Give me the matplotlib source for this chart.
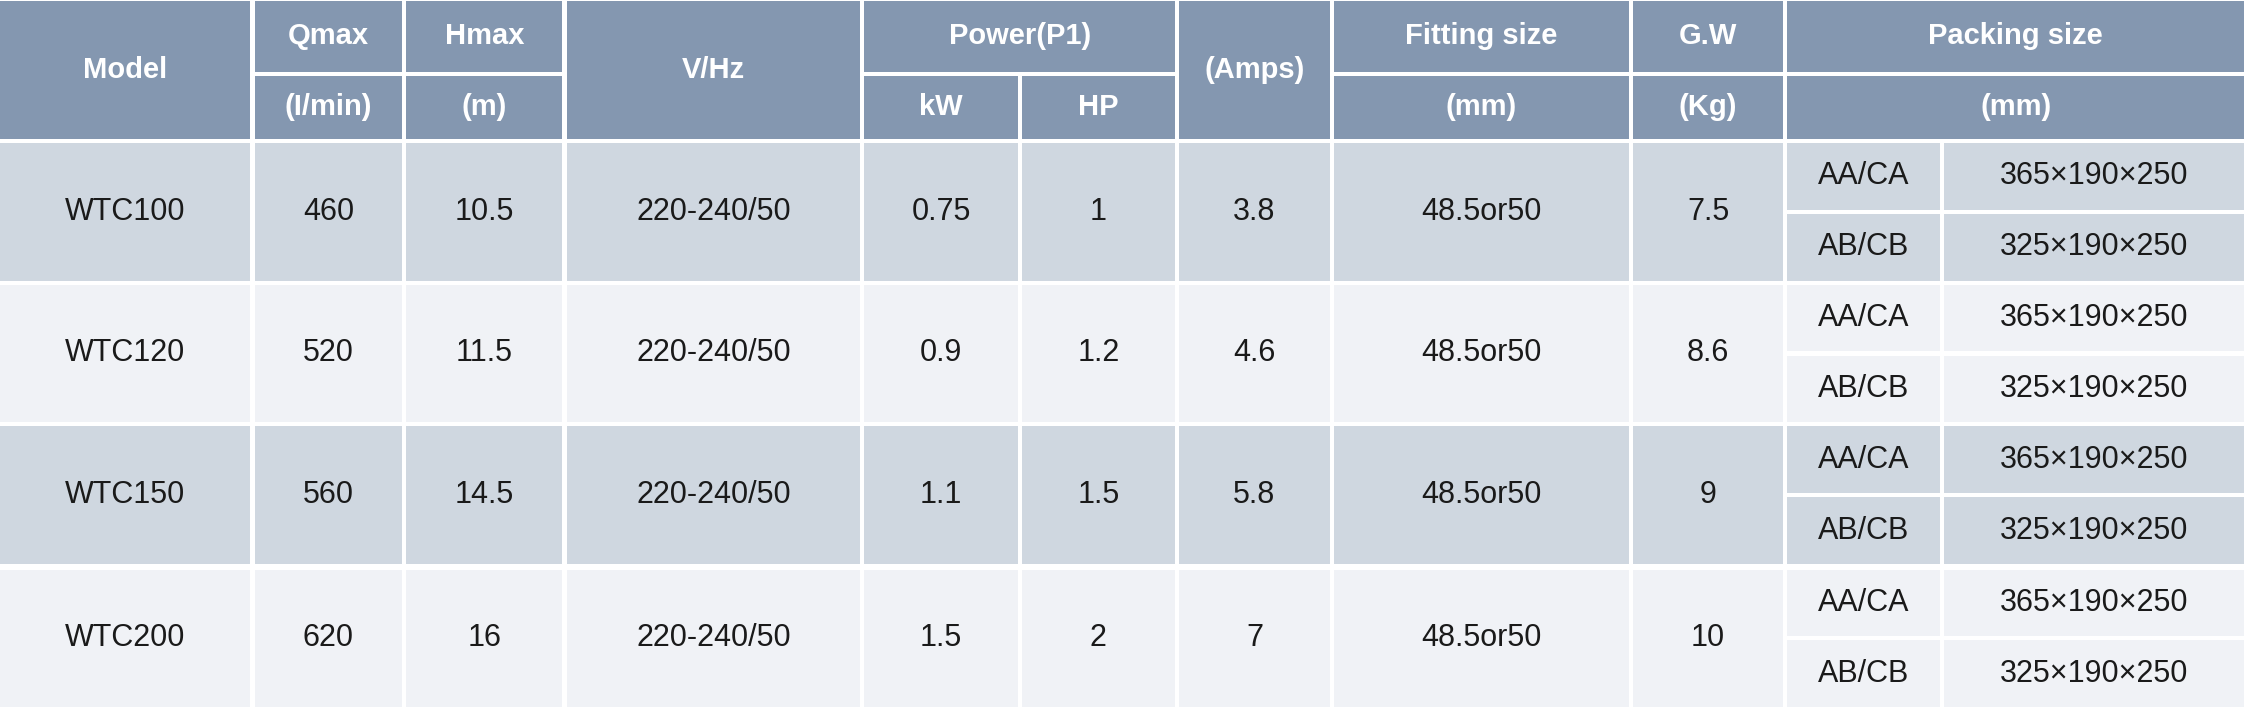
import matplotlib.pyplot as plt
from matplotlib.patches import Rectangle

# data
models = ["WTC100", "WTC120", "WTC150", "WTC200"]
qmax = ["460", "520", "560", "620"]
hmax = ["10.5", "11.5", "14.5", "16"]
volt = ["220-240/50"] * 4
kw = ["0.75", "0.9", "1.1", "1.5"]
hp = ["1", "1.2", "1.5", "2"]
amps = ["3.8", "4.6", "5.8", "7"]
fitting = ["48.5or50"] * 4
gw = ["7.5", "8.6", "9", "10"]
pack_codes = ["AA/CA", "AB/CB"]
pack_sizes = ["365×190×250", "325×190×250"]

S = 2244 / 1568
# column edges (reference display coords, scaled)
cols = [(0, 175), (178, 281), (284, 393), (396, 601), (604, 711), (714, 821),
        (824, 929), (932, 1138), (1141, 1246), (1249, 1355), (1358, 1568)]
cols = [(a * S, b * S) for a, b in cols]
hdr1 = (1, 50)
hdr2 = (53, 97)
rows = [(100, 196), (199, 295), (298, 394), (398, 494)]

HDR = "#8497B0"
ODD = "#CFD7E0"
EVEN = "#F0F2F6"
TXT = "#1a1a1a"
FONT = ["Liberation Sans", "DejaVu Sans"]

fig = plt.figure(figsize=(22.44, 7.12), dpi=100)
ax = fig.add_axes([0, 0, 1, 1])
ax.set_xlim(0, 2244)
ax.set_ylim(712, 0)
ax.axis("off")


def cell(x0, x1, y0, y1, color, text, tcol=TXT, bold=False, size=22):
    y0, y1 = y0 * S, y1 * S
    ax.add_patch(Rectangle((x0, y0), x1 - x0, y1 - y0, color=color, lw=0))
    ax.text((x0 + x1) / 2, (y0 + y1) / 2, text, ha="center", va="center",
            color=tcol, fontsize=size, family=FONT,
            fontweight="bold" if bold else "normal")


def hcell(ci, cj, y0, y1, text):
    cell(cols[ci][0], cols[cj][1], y0, y1, HDR, text, "white", True, 21)


# header
hcell(0, 0, hdr1[0], hdr2[1], "Model")
hcell(1, 1, *hdr1, "Qmax")
hcell(1, 1, *hdr2, "(I/min)")
hcell(2, 2, *hdr1, "Hmax")
hcell(2, 2, *hdr2, "(m)")
hcell(3, 3, hdr1[0], hdr2[1], "V/Hz")
hcell(4, 5, *hdr1, "Power(P1)")
hcell(4, 4, *hdr2, "kW")
hcell(5, 5, *hdr2, "HP")
hcell(6, 6, hdr1[0], hdr2[1], "(Amps)")
hcell(7, 7, *hdr1, "Fitting size")
hcell(7, 7, *hdr2, "(mm)")
hcell(8, 8, *hdr1, "G.W")
hcell(8, 8, *hdr2, "(Kg)")
hcell(9, 10, *hdr1, "Packing size")
hcell(9, 10, *hdr2, "(mm)")

# body
pack_x = cols[9][0]
pack_split = 1357 * S
for i, (y0, y1) in enumerate(rows):
    bg = ODD if i % 2 == 0 else EVEN
    vals = [models[i], qmax[i], hmax[i], volt[i], kw[i], hp[i], amps[i],
            fitting[i], gw[i]]
    for c, v in enumerate(vals):
        cell(cols[c][0], cols[c][1], y0, y1, bg, v)
    mid = (y0 + y1) / 2
    halves = [(y0, mid - 1.5), (mid + 1.5, y1)]
    for k, (a, b) in enumerate(halves):
        cell(pack_x, pack_split - 2, a, b, bg, pack_codes[k])
        cell(pack_split + 2, cols[10][1], a, b, bg, pack_sizes[k])

fig.savefig("out.png", dpi=100, facecolor="white")
